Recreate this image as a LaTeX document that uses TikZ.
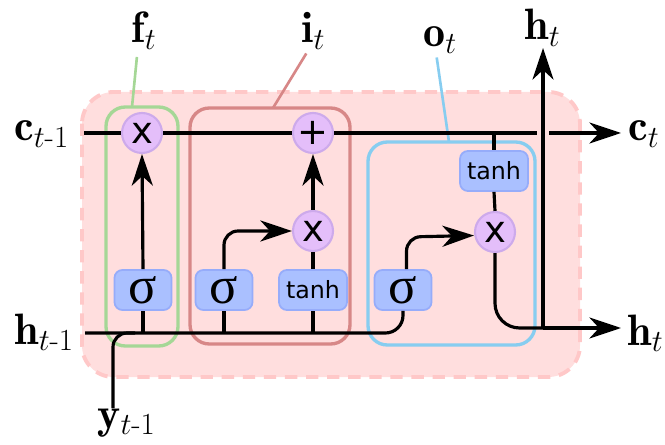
\RequirePackage{fix-cm}
\documentclass[tikz,border=0pt]{standalone}
\usepackage{amsmath,amssymb}
\usepackage{fontspec}
\newfontfamily\gatefont{DejaVu Sans}
\newfontfamily\sigfont{Liberation Serif}
\usepackage{tikz}
\usetikzlibrary{arrows.meta,positioning,calc}
\definecolor{cellpink}{RGB}{255,222,222}
\definecolor{celldash}{RGB}{255,200,200}
\definecolor{oppurple}{RGB}{228,190,250}
\definecolor{opedge}{RGB}{205,170,235}
\definecolor{actblue}{RGB}{170,192,255}
\definecolor{actedge}{RGB}{150,172,250}
\definecolor{forgetgreen}{RGB}{165,215,150}
\definecolor{inputred}{RGB}{215,135,135}
\definecolor{outputcyan}{RGB}{135,205,240}

\begin{document}
\begin{tikzpicture}[
  x=0.02cm, y=-0.02cm,
  every node/.style={inner sep=0pt},
  op/.style={circle, fill=oppurple, draw=opedge, line width=1.2pt, minimum size=0.8cm, font=\gatefont\fontsize{21}{21}\selectfont},
  act/.style={rounded corners=4.5pt, fill=actblue, draw=actedge, line width=1pt, minimum width=1.14cm, minimum height=0.8cm},
  sigbox/.style={act, font=\sigfont\fontsize{30}{30}\selectfont},
  tanhbox/.style={act, minimum width=1.36cm, font=\gatefont\fontsize{13.5}{14}\selectfont},
  wire/.style={line width=1.8pt, black},
  arr/.style={wire, -{Stealth[length=18pt,width=12pt,inset=5.5pt]}},
  gate/.style={line width=1.9pt, rounded corners=11pt},
  lead/.style={line width=1.5pt},
  lbl/.style={anchor=base west, font=\fontsize{25}{27}\selectfont}
]
  \useasboundingbox (0,0) rectangle (665,445);

  % cell
  \draw[fill=cellpink, draw=celldash, line width=2.2pt, dash pattern=on 7pt off 5pt, rounded corners=18pt]
    (82,92) rectangle (580,377);

  % gates
  \draw[gate, forgetgreen] (106,107) rectangle (178,346);
  \draw[gate, inputred]    (190,108) rectangle (350,344);
  \draw[gate, outputcyan]  (368,142) rectangle (535,345);
  \coordinate (fhook) at (132,107);
  \coordinate (ihook) at (273,108);
  \coordinate (ohook) at (449,142);

  % labels
  \node[lbl] (cprev) at (14,141)  {$\mathbf{c}_{t\text{-}1}$};
  \node[lbl] (hprev) at (14,344)  {$\mathbf{h}_{t\text{-}1}$};
  \node[lbl] (yprev) at (97,428)  {$\mathbf{y}_{t\text{-}1}$};
  \node[lbl] (cnext) at (628,141) {$\mathbf{c}_t$};
  \node[lbl] (hnext) at (627,345) {$\mathbf{h}_t$};
  \node[lbl] (htop)  at (524,40)  {$\mathbf{h}_t$};
  \node[lbl] (ft)    at (131,43)  {$\mathbf{f}_t$};
  \node[lbl] (it)    at (301,43)  {$\mathbf{i}_t$};
  \node[lbl] (ot)    at (423,47)  {$\mathbf{o}_t$};

  % operations
  \node[op] (fmul) at (142,133) {x};
  \node[op] (addc) at (313,133) {+};
  \node[op] (imul) at (313,231) {x};
  \node[op] (omul) at (495,232) {x};

  % activations
  \node[sigbox]  (fsig)  at (143,290) {σ};
  \node[sigbox]  (isig)  at (224,290) {σ};
  \node[tanhbox] (itanh) at (313,290) {tanh};
  \node[sigbox]  (osig)  at (403,290) {σ};
  \node[tanhbox] (otanh) at (494,171) {tanh};

  \coordinate (cstart) at (84,133);
  \coordinate (cgapL)  at (537,133);
  \coordinate (cgapR)  at (549,133);
  \coordinate (cend)   at (621,133);
  \coordinate (hstart) at (85,333);
  \coordinate (hsplit) at (543,328);
  \coordinate (hend)   at (621,328);
  \coordinate (hup)    at (543,48);
  \coordinate (ystart) at (113,408);

  % leader lines
  \draw[lead, forgetgreen] ([xshift=-4pt,yshift=-4pt]ft.south) -- (fhook);
  \draw[lead, inputred]    ([xshift=-4pt,yshift=-2pt]it.south) -- (ihook);
  \draw[lead, outputcyan]  ([xshift=-2pt,yshift=-2pt]ot.south) -- (ohook);

  % cell state
  \draw[wire] (cstart) -- (fmul) -- (addc) -- (cgapL);
  \draw[arr] (cgapR) -- (cend);

  % hidden input
  \draw[wire, rounded corners=10pt] (hstart) -- (osig.south |- hstart) -- (osig.south);
  \draw[wire, rounded corners=8pt] (ystart) -- (ystart |- hstart) -- (135,333);
  \foreach \b in {fsig, isig, itanh}
    \draw[wire] (\b.south |- hstart) -- (\b.south);

  % gate paths
  \draw[arr] (fsig.north) -- (fmul.south);
  \draw[arr, rounded corners=8pt] (isig.north) -- (isig.north |- imul) -- (imul.west);
  \draw[wire] (itanh.north) -- (imul.south);
  \draw[arr] (imul.north) -- (addc.south);
  \draw[arr, rounded corners=8pt] ([xshift=2pt]osig.north) -- ([xshift=2pt]osig.north |- 0,237) -- ([yshift=-2pt]omul.west);
  \draw[wire] (otanh.north |- cstart) -- (otanh.north);
  \draw[wire] (otanh.south) -- (omul.north);

  % output
  \draw[wire, rounded corners=14pt] (omul.south) -- (omul.south |- hsplit) -- (hsplit);
  \draw[arr] (hsplit) -- (hend);
  \draw[arr] (hsplit) -- (hup);
\end{tikzpicture}
\end{document}
